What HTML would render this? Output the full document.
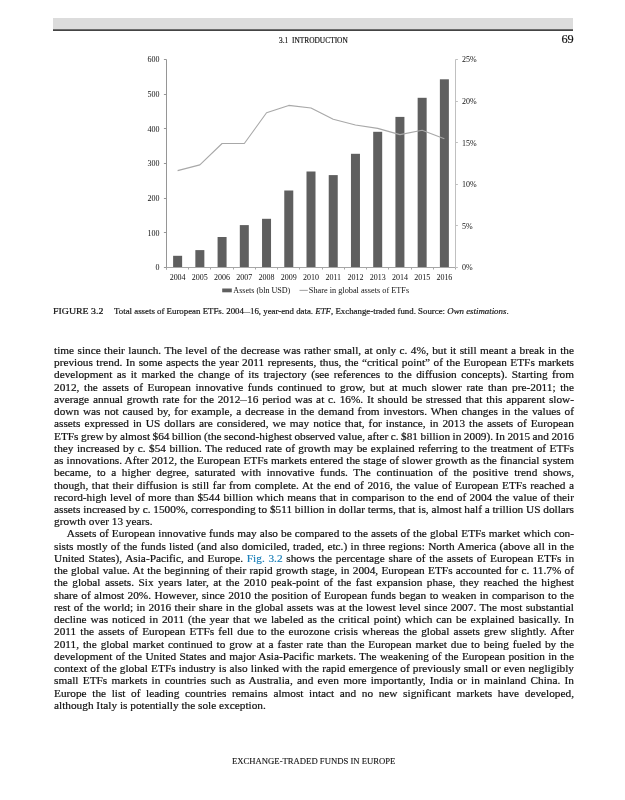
<!DOCTYPE html>
<html lang="en"><head><meta charset="utf-8"><title>3.1 Introduction — page 69</title>
<style>
html,body{margin:0;padding:0;background:#fff}
#page{position:relative;width:625px;height:800px;overflow:hidden;background:#fff;font-family:'Liberation Serif', serif;color:#111}
.hbar{position:absolute;left:53px;top:18px;width:520px;height:11px;background:#dcdcdc}
.hline{position:absolute;left:53px;top:29px;width:520px;height:2px;background:linear-gradient(#6c6c6c 0,#6c6c6c 50%,#444 50%,#444 100%)}
.t{position:absolute;white-space:nowrap;transform-origin:0 0;line-height:12px}
.rh{left:279.2px;top:35.07px;font-size:7.2px;transform:scaleX(1.0285);-webkit-text-stroke:0.15px #111}
.pn{left:561.40px;top:32.35px;font-size:12.3px;line-height:14px;-webkit-text-stroke:0.2px #111}
.chart{position:absolute;left:0;top:0}
.fig{left:53.2px;top:304.86px;font-size:9.0px;transform:scaleX(1.0953);-webkit-text-stroke:0.22px #111}
.cap{left:114.0px;top:306.14px;font-size:7.3px;transform:scaleX(1.2104);-webkit-text-stroke:0.15px #111}
.body{position:absolute;left:54.0px;top:0;width:460.18px;transform:scaleX(1.13);transform-origin:0 0;font-size:10.0px;line-height:12.0px;-webkit-text-stroke:0.18px #111}
.ln{position:absolute;left:0;white-space:nowrap}
.lk{color:#1b7fb8;-webkit-text-stroke-color:#1b7fb8}
.d{display:inline-block;transform:scaleX(1.2);margin:0 0.5px}
.d2{display:inline-block;transform:scaleX(1.4);margin:0 0.7px}
.ft{left:232px;top:754.66px;font-size:9px;transform:scaleX(0.9626);-webkit-text-stroke:0.12px #111}
</style></head>
<body><div id="page">
<div class="hbar"></div><div class="hline"></div>
<div class="t rh">3.1&nbsp; INTRODUCTION</div>
<div class="t pn">69</div>
<svg class="chart" width="625" height="300" viewBox="0 0 625 300">
<rect x="173.12" y="255.80" width="9.0" height="11.70" fill="#5f5f5f"/>
<rect x="195.35" y="250.10" width="9.0" height="17.40" fill="#5f5f5f"/>
<rect x="217.58" y="237.00" width="9.0" height="30.50" fill="#5f5f5f"/>
<rect x="239.81" y="225.10" width="9.0" height="42.40" fill="#5f5f5f"/>
<rect x="262.04" y="218.80" width="9.0" height="48.70" fill="#5f5f5f"/>
<rect x="284.27" y="190.50" width="9.0" height="77.00" fill="#5f5f5f"/>
<rect x="306.50" y="171.50" width="9.0" height="96.00" fill="#5f5f5f"/>
<rect x="328.73" y="175.10" width="9.0" height="92.40" fill="#5f5f5f"/>
<rect x="350.96" y="153.80" width="9.0" height="113.70" fill="#5f5f5f"/>
<rect x="373.19" y="131.80" width="9.0" height="135.70" fill="#5f5f5f"/>
<rect x="395.42" y="116.90" width="9.0" height="150.60" fill="#5f5f5f"/>
<rect x="417.65" y="97.80" width="9.0" height="169.70" fill="#5f5f5f"/>
<rect x="439.88" y="79.30" width="9.0" height="188.20" fill="#5f5f5f"/>
<g fill="none" stroke-width="1">
<path stroke="#969696" d="M166.5 59.5V269.5"/>
<path stroke="#969696" d="M163.90 267.50H166.5M163.90 232.50H166.5M163.90 198.50H166.5M163.90 163.50H166.5M163.90 128.50H166.5M163.90 94.50H166.5M163.90 59.50H166.5"/>
<path stroke="#a6a6a6" d="M166.5 267.5H455.5"/>
<path stroke="#a6a6a6" d="M166.50 267.5v2M188.50 267.5v2M210.50 267.5v2M233.50 267.5v2M255.50 267.5v2M277.50 267.5v2M299.50 267.5v2M322.50 267.5v2M344.50 267.5v2M366.50 267.5v2M388.50 267.5v2M411.50 267.5v2M433.50 267.5v2M455.50 267.5v2"/>
<path stroke="#c0c0c0" d="M455.5 59.5V267.5"/>
<path stroke="#c0c0c0" d="M455.5 267.50h2.4M455.5 225.50h2.4M455.5 184.50h2.4M455.5 142.50h2.4M455.5 101.50h2.4M455.5 59.50h2.4"/>
<polyline stroke="#a8a8a8" stroke-width="1.1" stroke-linejoin="round" points="177.62,170.60 199.85,164.90 222.08,143.50 244.31,143.50 266.54,112.80 288.77,105.40 311.00,108.00 333.23,119.30 355.46,125.00 377.69,128.40 399.92,134.60 422.15,130.30 444.38,138.70"/>
</g>
<g font-family="'Liberation Serif', serif" font-size="8" fill="#111">
<text transform="translate(159.6 270.30) scale(1 .94)" text-anchor="end">0</text>
<text transform="translate(159.6 235.63) scale(1 .94)" text-anchor="end">100</text>
<text transform="translate(159.6 200.97) scale(1 .94)" text-anchor="end">200</text>
<text transform="translate(159.6 166.30) scale(1 .94)" text-anchor="end">300</text>
<text transform="translate(159.6 131.63) scale(1 .94)" text-anchor="end">400</text>
<text transform="translate(159.6 96.97) scale(1 .94)" text-anchor="end">500</text>
<text transform="translate(159.6 62.30) scale(1 .94)" text-anchor="end">600</text>
<text transform="translate(462.1 270.30) scale(1 .94)">0%</text>
<text transform="translate(462.1 228.70) scale(1 .94)">5%</text>
<text transform="translate(462.1 187.10) scale(1 .94)">10%</text>
<text transform="translate(462.1 145.50) scale(1 .94)">15%</text>
<text transform="translate(462.1 103.90) scale(1 .94)">20%</text>
<text transform="translate(462.1 62.30) scale(1 .94)">25%</text>
<text transform="translate(177.62 279.6) scale(1 .94)" text-anchor="middle">2004</text>
<text transform="translate(199.85 279.6) scale(1 .94)" text-anchor="middle">2005</text>
<text transform="translate(222.08 279.6) scale(1 .94)" text-anchor="middle">2006</text>
<text transform="translate(244.31 279.6) scale(1 .94)" text-anchor="middle">2007</text>
<text transform="translate(266.54 279.6) scale(1 .94)" text-anchor="middle">2008</text>
<text transform="translate(288.77 279.6) scale(1 .94)" text-anchor="middle">2009</text>
<text transform="translate(311.00 279.6) scale(1 .94)" text-anchor="middle">2010</text>
<text transform="translate(333.23 279.6) scale(1 .94)" text-anchor="middle">2011</text>
<text transform="translate(355.46 279.6) scale(1 .94)" text-anchor="middle">2012</text>
<text transform="translate(377.69 279.6) scale(1 .94)" text-anchor="middle">2013</text>
<text transform="translate(399.92 279.6) scale(1 .94)" text-anchor="middle">2014</text>
<text transform="translate(422.15 279.6) scale(1 .94)" text-anchor="middle">2015</text>
<text transform="translate(444.38 279.6) scale(1 .94)" text-anchor="middle">2016</text>
<text transform="translate(233.3 292.8) scale(1 .94)" textLength="57" lengthAdjust="spacingAndGlyphs">Assets (bln USD)</text>
<text transform="translate(308.8 292.8) scale(1 .94)" textLength="100.4" lengthAdjust="spacingAndGlyphs">Share in global assets of ETFs</text>
</g>
<rect x="222.2" y="288.5" width="9.6" height="3.8" fill="#5f5f5f"/>
<path d="M299.5 290.4H307.8" stroke="#a8a8a8" stroke-width="1.1"/>
</svg>
<div class="t fig">FIGURE 3.2</div>
<div class="t cap">Total assets of European ETFs. 2004<span class="d2">–</span>16, year-end data. <i>ETF</i>, Exchange-traded fund. Source: <i>Own estimations</i>.</div>
<div class="body">
<div class="ln" style="top:345.00px;word-spacing:0.517px;">time since their launch. The level of the decrease was rather small, at only c. 4%, but it still meant a break in the</div>
<div class="ln" style="top:357.00px;word-spacing:0.530px;">previous trend. In some aspects the year 2011 represents, thus, the “critical point” of the European ETFs markets</div>
<div class="ln" style="top:369.00px;word-spacing:1.438px;">development as it marked the change of its trajectory (see references to the diffusion concepts). Starting from</div>
<div class="ln" style="top:382.00px;word-spacing:1.596px;">2012, the assets of European innovative funds continued to grow, but at much slower rate than pre-2011; the</div>
<div class="ln" style="top:394.00px;word-spacing:0.825px;">average annual growth rate for the 2012<span class="d">–</span>16 period was at c. 16%. It should be stressed that this apparent slow-</div>
<div class="ln" style="top:406.00px;word-spacing:0.879px;">down was not caused by, for example, a decrease in the demand from investors. When changes in the values of</div>
<div class="ln" style="top:418.00px;word-spacing:1.051px;">assets expressed in US dollars are considered, we may notice that, for instance, in 2013 the assets of European</div>
<div class="ln" style="top:431.00px;word-spacing:-0.279px;">ETFs grew by almost $64 billion (the second-highest observed value, after c. $81 billion in 2009). In 2015 and 2016</div>
<div class="ln" style="top:443.00px;word-spacing:0.539px;">they increased by c. $54 billion. The reduced rate of growth may be explained referring to the treatment of ETFs</div>
<div class="ln" style="top:455.00px;word-spacing:0.262px;">as innovations. After 2012, the European ETFs markets entered the stage of slower growth as the financial system</div>
<div class="ln" style="top:467.00px;word-spacing:2.420px;">became, to a higher degree, saturated with innovative funds. The continuation of the positive trend shows,</div>
<div class="ln" style="top:480.00px;word-spacing:0.732px;">though, that their diffusion is still far from complete. At the end of 2016, the value of European ETFs reached a</div>
<div class="ln" style="top:492.00px;word-spacing:0.459px;">record-high level of more than $544 billion which means that in comparison to the end of 2004 the value of their</div>
<div class="ln" style="top:504.00px;word-spacing:-0.040px;">assets increased by c. 1500%, corresponding to $511 billion in dollar terms, that is, almost half a trillion US dollars</div>
<div class="ln" style="top:516.00px;">growth over 13 years.</div>
<div class="ln" style="top:528.00px;padding-left:11.33px;word-spacing:0.220px;">Assets of European innovative funds may also be compared to the assets of the global ETFs market which con-</div>
<div class="ln" style="top:541.00px;word-spacing:0.425px;">sists mostly of the funds listed (and also domiciled, traded, etc.) in three regions: North America (above all in the</div>
<div class="ln" style="top:553.00px;word-spacing:0.801px;">United States), Asia-Pacific, and Europe. <span class="lk">Fig. 3.2</span> shows the percentage share of the assets of European ETFs in</div>
<div class="ln" style="top:565.00px;word-spacing:0.415px;">the global value. At the beginning of their rapid growth stage, in 2004, European ETFs accounted for c. 11.7% of</div>
<div class="ln" style="top:577.00px;word-spacing:1.413px;">the global assets. Six years later, at the 2010 peak-point of the fast expansion phase, they reached the highest</div>
<div class="ln" style="top:590.00px;word-spacing:0.501px;">share of almost 20%. However, since 2010 the position of European funds began to weaken in comparison to the</div>
<div class="ln" style="top:602.00px;word-spacing:0.471px;">rest of the world; in 2016 their share in the global assets was at the lowest level since 2007. The most substantial</div>
<div class="ln" style="top:614.00px;word-spacing:0.978px;">decline was noticed in 2011 (the year that we labeled as the critical point) which can be explained basically. In</div>
<div class="ln" style="top:626.00px;word-spacing:1.137px;">2011 the assets of European ETFs fell due to the eurozone crisis whereas the global assets grew slightly. After</div>
<div class="ln" style="top:639.00px;word-spacing:0.965px;">2011, the global market continued to grow at a faster rate than the European market due to being fueled by the</div>
<div class="ln" style="top:651.00px;word-spacing:0.395px;">development of the United States and major Asia-Pacific markets. The weakening of the European position in the</div>
<div class="ln" style="top:663.00px;word-spacing:0.241px;">context of the global ETFs industry is also linked with the rapid emergence of previously small or even negligibly</div>
<div class="ln" style="top:675.00px;word-spacing:1.295px;">small ETFs markets in countries such as Australia, and even more importantly, India or in mainland China. In</div>
<div class="ln" style="top:688.00px;word-spacing:2.464px;">Europe the list of leading countries remains almost intact and no new significant markets have developed,</div>
<div class="ln" style="top:700.00px;">although Italy is potentially the sole exception.</div>
</div>
<div class="t ft">EXCHANGE-TRADED FUNDS IN EUROPE</div>
</div></body></html>
